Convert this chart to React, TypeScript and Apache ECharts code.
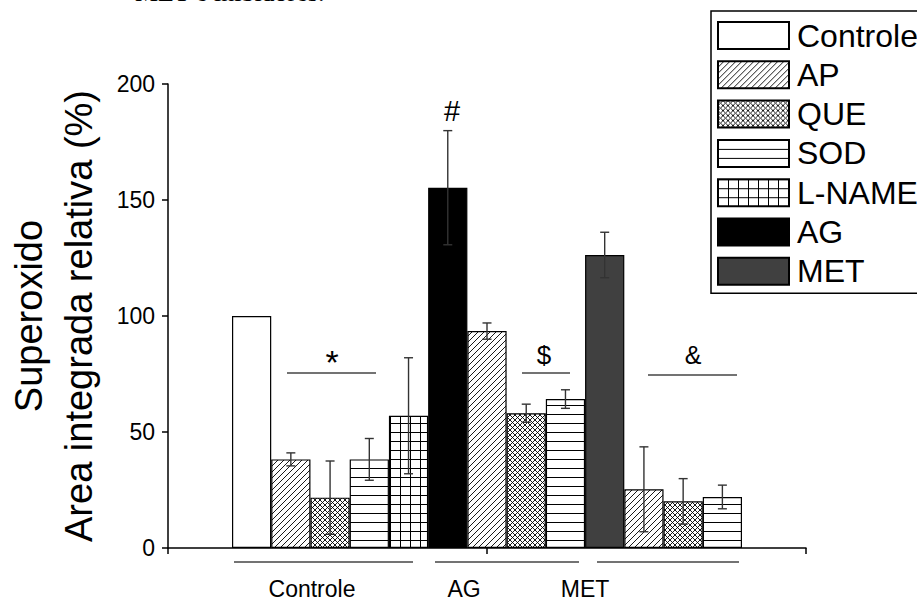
import React, { useEffect, useRef } from "react";
import * as echarts from "echarts";

// Treatments shown in the legend, in legend order
const treatments = ["Controle", "AP", "QUE", "SOD", "L-NAME", "AG", "MET"];

// Group labels under the x axis
const groupLabels = ["Controle", "AG", "MET"];

// Bars from left to right: group, treatment, mean (%) and error (%)
const slotGroup = [
  "Controle", "Controle", "Controle", "Controle", "Controle",
  "AG", "AG", "AG", "AG",
  "MET", "MET", "MET", "MET",
];
const slotTreatment = [
  "Controle", "AP", "QUE", "SOD", "L-NAME",
  "AG", "AP", "QUE", "SOD",
  "MET", "AP", "QUE", "SOD",
];
const slotMean = [100, 38.2, 21.7, 38.2, 57, 155.3, 93.5, 58.1, 64.2, 126.3, 25.3, 20.1, 22];
const slotErr = [0, 2.8, 15.8, 9, 25, 24.6, 3.5, 3.9, 4, 9.8, 18.3, 9.8, 5.1];

// Value axis ticks
const yTicks = [0, 50, 100, 150, 200];

// Significance markers
const markers = ["*", "$", "&", "#"];

const FONT = "'Liberation Sans', Arial, Helvetica, sans-serif";

type Ctx = CanvasRenderingContext2D;

function tile(w: number, h: number, draw: (ctx: Ctx, w: number, h: number) => void) {
  const c = document.createElement("canvas");
  c.width = w;
  c.height = h;
  const ctx = c.getContext("2d") as Ctx;
  ctx.fillStyle = "#ffffff";
  ctx.fillRect(0, 0, w, h);
  ctx.strokeStyle = "#000000";
  ctx.lineWidth = 1;
  draw(ctx, w, h);
  return { image: c, repeat: "repeat" } as any;
}

function seg(ctx: Ctx, x1: number, y1: number, x2: number, y2: number) {
  ctx.beginPath();
  ctx.moveTo(x1, y1);
  ctx.lineTo(x2, y2);
  ctx.stroke();
}

function buildFills(): Record<string, any> {
  const diag = tile(6, 6, (ctx, w, h) => {
    ctx.lineWidth = 0.9;
    seg(ctx, -1, h + 1, w + 1, -1);
    seg(ctx, -1, 1, 1, -1);
    seg(ctx, w - 1, h + 1, w + 1, h - 1);
  });
  const cross = tile(5, 5, (ctx, w, h) => {
    ctx.lineWidth = 0.9;
    seg(ctx, -1, h + 1, w + 1, -1);
    seg(ctx, -1, -1, w + 1, h + 1);
    seg(ctx, -1, 1, 1, -1);
    seg(ctx, w - 1, h + 1, w + 1, h - 1);
    seg(ctx, w - 1, -1, w + 1, 1);
    seg(ctx, -1, h - 1, 1, h + 1);
  });
  const horiz = tile(4, 9, (ctx, w) => {
    seg(ctx, 0, 0.5, w, 0.5);
  });
  const grid = tile(10, 9, (ctx, w, h) => {
    seg(ctx, 0, 0.5, w, 0.5);
    seg(ctx, 0.5, 0, 0.5, h);
  });
  return {
    Controle: "#ffffff",
    AP: diag,
    QUE: cross,
    SOD: horiz,
    "L-NAME": grid,
    AG: "#000000",
    MET: "#404040",
  };
}

export default function App() {
  const ref = useRef<HTMLDivElement>(null);

  useEffect(() => {
    if (!ref.current) return;
    const chart = echarts.init(ref.current, undefined, { renderer: "svg" });
    const fills = buildFills();
    const slotIds = slotTreatment.map((t, i) => `${slotGroup[i]} / ${t}`);

    const barSeries = treatments.map((t) => ({
      name: t,
      type: "bar",
      xAxisIndex: 0,
      yAxisIndex: 0,
      stack: "bars",
      barWidth: "100%",
      data: slotTreatment.map((s, i) => (s === t ? slotMean[i] : "-")),
      itemStyle: { color: fills[t], borderColor: "#000", borderWidth: 1.2 },
      emphasis: { disabled: true },
    }));

    const errorSeries = {
      name: "erro",
      type: "custom",
      xAxisIndex: 0,
      yAxisIndex: 0,
      z: 10,
      data: slotMean.map((m, i) => [i, m - slotErr[i], m + slotErr[i]]),
      renderItem: (_p: any, api: any) => {
        const x = api.value(0);
        const lo = api.value(1);
        const hi = api.value(2);
        if (hi - lo <= 0) return null;
        const a = api.coord([x, lo]);
        const b = api.coord([x, hi]);
        const hw = 4.5;
        const style = { stroke: "#333", lineWidth: 1.4 };
        return {
          type: "group",
          children: [
            { type: "line", shape: { x1: a[0], y1: a[1], x2: b[0], y2: b[1] }, style },
            { type: "line", shape: { x1: b[0] - hw, y1: b[1], x2: b[0] + hw, y2: b[1] }, style },
            { type: "line", shape: { x1: a[0] - hw, y1: a[1], x2: a[0] + hw, y2: a[1] }, style },
          ],
        };
      },
    };

    const lineStyle = { stroke: "#444", lineWidth: 1.4 };
    const markText = (text: string, x: number, y: number, size: number) => ({
      type: "text",
      x,
      y,
      style: { text, fontSize: size, fontFamily: FONT, fill: "#000", align: "center", verticalAlign: "middle" },
    });
    const groupText = (text: string, x: number) => ({
      type: "text",
      x,
      y: 589,
      style: { text, fontSize: 23, fontFamily: FONT, fill: "#000", align: "center", verticalAlign: "middle" },
    });
    const titleText = (text: string, x: number) => ({
      type: "text",
      x,
      y: 316,
      rotation: Math.PI / 2,
      style: { text, fontSize: 38, fontFamily: FONT, fill: "#000", align: "center", verticalAlign: "middle" },
    });

    const option: any = {
      animation: false,
      backgroundColor: "#fff",
      textStyle: { fontFamily: FONT },
      grid: [
        { left: 232, right: 175, top: 84, bottom: 55 },
        { left: 168, right: 111, top: 84, bottom: 55 },
      ],
      xAxis: [
        { type: "category", gridIndex: 0, data: slotIds, show: false },
        {
          type: "value",
          gridIndex: 1,
          min: 0,
          max: 2,
          interval: 1,
          axisLine: { show: true, lineStyle: { color: "#000", width: 1.5 } },
          axisTick: { show: true, inside: false, length: 6, lineStyle: { color: "#000", width: 1.5 } },
          axisLabel: { show: false },
          splitLine: { show: false },
        },
      ],
      yAxis: [
        { type: "value", gridIndex: 0, min: 0, max: 200, show: false },
        {
          type: "value",
          gridIndex: 1,
          min: yTicks[0],
          max: yTicks[yTicks.length - 1],
          interval: 50,
          axisLine: { show: true, lineStyle: { color: "#000", width: 1.5 } },
          axisTick: { show: true, inside: false, length: 6, lineStyle: { color: "#000", width: 1.5 } },
          axisLabel: { fontSize: 23, color: "#000", margin: 13, fontFamily: FONT },
          splitLine: { show: false },
        },
      ],
      legend: {
        data: treatments,
        orient: "vertical",
        left: 711,
        top: 11,
        padding: [8.5, 30, 6, 6],
        itemWidth: 71,
        itemHeight: 27,
        itemGap: 7.3,
        icon: "rect",
        selectedMode: false,
        backgroundColor: "#fff",
        borderColor: "#000",
        borderWidth: 1.5,
        borderRadius: 0,
        textStyle: { fontSize: 32, color: "#000", fontFamily: FONT, padding: [0, 0, 0, 3] },
      },
      series: [...barSeries, errorSeries],
      graphic: [
        // heading text running off the top edge
        {
          type: "text",
          x: 135,
          y: 5,
          style: {
            text: "MET e inibidores.",
            fontSize: 26,
            fontFamily: "'Liberation Serif', 'Times New Roman', serif",
            fill: "#000",
            verticalAlign: "bottom",
          },
        },
        // y axis title, two lines
        titleText("Superoxido", 29),
        titleText("Area integrada relativa (%)", 79),
        // group underlines and labels
        { type: "line", shape: { x1: 234, y1: 562, x2: 413, y2: 562 }, style: lineStyle },
        { type: "line", shape: { x1: 435, y1: 562, x2: 579, y2: 562 }, style: lineStyle },
        { type: "line", shape: { x1: 597, y1: 562, x2: 739, y2: 562 }, style: lineStyle },
        groupText(groupLabels[0], 312),
        groupText(groupLabels[1], 464),
        groupText(groupLabels[2], 585),
        // significance brackets
        { type: "line", shape: { x1: 287, y1: 373, x2: 376, y2: 373 }, style: lineStyle },
        { type: "line", shape: { x1: 522, y1: 373, x2: 570, y2: 373 }, style: lineStyle },
        { type: "line", shape: { x1: 648, y1: 375, x2: 737, y2: 375 }, style: lineStyle },
        markText(markers[0], 332, 362, 34),
        markText(markers[1], 544, 355, 26),
        markText(markers[2], 693, 355, 25),
        markText(markers[3], 452, 111, 29),
      ],
    };

    chart.setOption(option);
    return () => chart.dispose();
  }, []);

  return <div ref={ref} style={{ position: "fixed", left: 0, top: 0, width: 917, height: 603 }} />;
}
